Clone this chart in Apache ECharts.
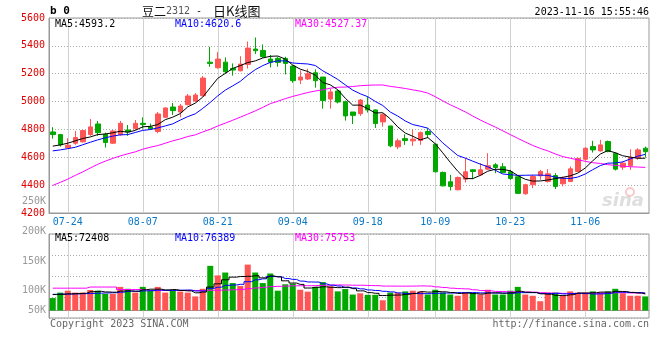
<!DOCTYPE html>
<html><head><meta charset="utf-8">
<script src="https://cdn.jsdelivr.net/npm/echarts@6/dist/echarts.min.js"></script>
<style>html,body{margin:0;padding:0;background:#fff}#c{width:660px;height:360px}</style>
</head><body><div id="c"></div>
<script>
const dates = ['07-20','07-21','07-24','07-25','07-26','07-27','07-28','07-31',
'08-01','08-02','08-03','08-04','08-07','08-08','08-09','08-10','08-11',
'08-14','08-15','08-16','08-17','08-18','08-21','08-22','08-23','08-24','08-25',
'08-28','08-29','08-30','08-31','09-01',
'09-04','09-05','09-06','09-07','09-08','09-11','09-12','09-13','09-14','09-15',
'09-18','09-19','09-20','09-21','09-22','09-25','09-26','09-27','09-28',
'10-09','10-10','10-11','10-12','10-13','10-16','10-17','10-18','10-19','10-20',
'10-23','10-24','10-25','10-26','10-27','10-30','10-31','11-01','11-02','11-03',
'11-06','11-07','11-08','11-09','11-10','11-13','11-14','11-15','11-16'];
const gridDates = ['07-24','08-07','08-21','09-04','09-18','10-09','10-23','11-06'];

const opens = [4782,4763,4668,4701,4711,4763,4839,4765,4701,4763,
4796,4806,4844,4818,4785,4887,4961,4925,4978,5004,
5042,5283,5243,5283,5238,5221,5267,5377,5367,5305,
5310,5310,5255,5155,5162,5207,5176,5018,5076,4999,
4925,4913,4975,4940,4854,4825,4675,4734,4718,4720,
4785,4694,4491,4424,4367,4443,4510,4474,4515,4546,
4532,4496,4460,4338,4403,4467,4426,4469,4410,4426,
4498,4586,4677,4646,4713,4629,4529,4539,4594,4665];
const closes = [4763,4689,4687,4742,4792,4818,4777,4706,4789,4844,
4782,4844,4835,4804,4911,4954,4935,4968,5040,5047,
5169,5274,5305,5214,5226,5269,5384,5365,5322,5283,
5281,5274,5150,5176,5200,5150,5007,5069,4997,4897,
4901,5011,4940,4842,4906,4682,4718,4720,4730,4777,
4763,4496,4395,4391,4455,4496,4498,4510,4539,4527,
4491,4448,4341,4403,4462,4498,4481,4391,4450,4517,
4592,4665,4653,4689,4641,4515,4558,4600,4653,4640];
const lows = [4734,4677,4663,4689,4706,4754,4754,4670,4696,4754,
4754,4796,4806,4796,4773,4882,4904,4887,4973,4997,
5038,5250,5236,5202,5186,5217,5238,5341,5314,5245,
5250,5195,5135,5126,5155,5100,4949,4949,4987,4863,
4839,4897,4921,4811,4820,4672,4658,4689,4682,4689,
4737,4491,4391,4362,4362,4419,4443,4467,4510,4486,
4486,4438,4338,4331,4379,4438,4419,4372,4391,4422,
4493,4577,4634,4641,4636,4505,4510,4510,4582,4598];
const highs = [4816,4768,4737,4789,4796,4875,4861,4777,4796,4861,
4832,4868,4887,4842,4925,4959,4990,4983,5054,5061,
5183,5393,5355,5317,5274,5326,5431,5460,5410,5334,
5322,5322,5260,5224,5236,5231,5176,5092,5083,5007,
4925,5018,5035,4944,4916,4825,4734,4765,4801,4785,
4809,4701,4498,4474,4462,4594,4515,4558,4629,4558,
4558,4510,4462,4410,4474,4510,4515,4486,4462,4534,
4598,4672,4718,4725,4720,4634,4570,4658,4665,4677];

const ma5 = [4680,4689,4701,4718,4735,4746,4763,4767,4776,4787,
4780,4793,4819,4822,4835,4870,4888,4914,4962,4989,
5032,5100,5167,5202,5238,5258,5280,5292,5313,5325,
5327,5305,5262,5233,5216,5190,5137,5120,5085,5024,
4974,4975,4949,4918,4920,4876,4818,4774,4751,4725,
4742,4697,4632,4564,4500,4447,4447,4470,4500,4514,
4513,4503,4469,4442,4429,4430,4437,4447,4456,4467,
4486,4523,4575,4623,4648,4633,4611,4601,4593,4593.2];
const ma10 = [4646,4653,4662,4672,4690,4708,4725,4740,4752,4761,
4763,4778,4793,4799,4811,4825,4840,4867,4892,4912,
4951,4994,5041,5082,5113,5145,5190,5229,5258,5281,
5292,5292,5277,5273,5270,5259,5221,5191,5159,5120,
5082,5056,5035,5001,4972,4925,4896,4861,4835,4823,
4809,4757,4703,4658,4613,4594,4572,4551,4532,4507,
4480,4475,4470,4471,4472,4472,4470,4458,4449,4448,
4458,4480,4511,4540,4558,4559,4567,4588,4608,4620.6];
const ma30 = [4398,4420,4443,4470,4495,4523,4550,4572,4592,4610,
4625,4639,4658,4672,4684,4701,4718,4732,4749,4761,
4782,4801,4825,4845,4866,4888,4910,4933,4958,4985,
5002,5021,5037,5051,5065,5076,5084,5096,5103,5104,
5108,5114,5117,5119,5119,5109,5102,5094,5084,5075,
5061,5035,5005,4977,4952,4926,4896,4868,4842,4817,
4790,4763,4736,4710,4685,4664,4646,4624,4605,4593,
4582,4571,4561,4556,4547,4542,4536,4532,4530,4527.37];

const volumes = [54600,78500,86900,78500,78500,89900,86900,73100,73100,103700,
95300,78500,103700,86900,103700,78500,86900,82700,78500,61700,
95300,196100,154100,166700,120500,107900,201600,166700,120500,162500,
86900,115100,117600,91100,82700,103700,124700,106700,84000,94100,
70100,75600,68900,68900,44900,78500,78500,84000,86900,84000,
70100,91100,78500,70100,64700,78500,78500,70100,91100,70100,
70100,86900,103700,70100,64700,40700,78500,78500,64700,84000,
78500,78500,84000,78500,84000,95300,75600,64700,64700,61700];
const vma5 = [70000,71000,73000,74000,75400,82500,84100,81400,80300,85300,
86400,84700,90900,93600,93600,90300,91900,87700,86100,77700,
81000,102900,117100,134800,146500,149100,150200,152700,143400,151800,
147600,130300,120500,114600,98700,102000,104000,101800,100400,102600,
95900,86100,78500,75500,65700,67400,67900,71000,74600,82400,
80700,83200,82100,78800,74900,76600,74100,72400,76600,77700,
76000,77700,84400,80200,79100,73200,71500,66500,65400,69300,
76800,76800,77900,80700,80700,84100,83500,79600,76900,72408];
const vma10 = [71000,72000,72000,73000,74000,75000,76000,77000,78000,80400,
84400,84400,86100,87000,89500,88300,88300,89300,89800,85600,
85600,97400,102400,110400,112100,115000,126500,134900,139100,149200,
148400,140300,136600,129000,125300,124800,117200,111200,107500,100700,
99000,95000,90200,87900,84200,81600,77000,74800,75000,74000,
74000,75600,76500,76700,78600,78600,78600,77300,77700,76300,
76300,75900,78400,78400,78400,74600,74600,75400,72800,74200,
75000,74200,72200,73100,75000,80500,80200,78800,78800,76389];
const vma30 = [98000,98000,98000,98000,98000,103000,103000,103000,103000,92000,
92000,92000,92000,88000,88000,88000,88000,88000,88000,88000,
88000,89000,89000,90000,91000,93000,96000,99000,102000,105100,
106100,107400,108400,108800,108900,109400,110700,111800,112200,111800,
111000,110900,109700,109100,107200,107200,106900,106900,107200,108000,
107100,103600,101100,97900,96000,95000,90900,87700,86700,83700,
83100,82200,81700,81000,80400,78300,76800,75800,75200,74800,
75100,75200,75700,76000,77300,77900,77800,77200,76400,75753];

const priceAxis = {min: 4200, max: 5600, step: 200};
const volAxis = {min: -33000, max: 336000};
const volTickLabels = ['200K','150K','100K','50K'];
const priceExtraLabel = '250K';
const titleText = {code: 'b 0', name1: '豆二', num: '2312', dash: '-', name2: '日K线图', time: '2023-11-16 15:55:46'};
const priceMaLabels = ['MA5:4593.2','MA10:4620.6','MA30:4527.37'];
const volMaLabels = ['MA5:72408','MA10:76389','MA30:75753'];

const RED = '#ff5555', GREEN = '#00a800';
const MONO = '"DejaVu Sans Mono", monospace';
const GRID_COLOR = '#aaaaaa';
const maColors = ['#000000','#0000ff','#ff00ff'];

const chart = echarts.init(document.getElementById('c'), null, {renderer:'canvas'});

function mtext(text, x, y, color, align, size, extra) {
  return Object.assign({type:'text', x:x, y:y, silent:true, z:100,
    style:{text:text, fill:color, font:(size||10)+'px '+MONO, align:align||'left', verticalAlign:'middle'}}, extra||{});
}
const volLabelY = [231, 261, 290, 310];
const graphics = [
  {type:'text', x:50, y:11, silent:true, style:{text:titleText.code, fill:'#000', font:'bold 11px '+MONO, align:'left', verticalAlign:'middle'}},
  {type:'text', x:142, y:11, silent:true, style:{text:titleText.name1, fill:'#111', font:'12px "Noto Sans CJK SC"', align:'left', verticalAlign:'middle'}},
  mtext(titleText.num, 166, 11, '#555', 'left', 10),
  mtext(titleText.dash, 199, 11, '#111', 'center', 10),
  {type:'text', x:213, y:11, silent:true, style:{text:titleText.name2, fill:'#111', font:'13px "Noto Sans CJK SC"', align:'left', verticalAlign:'middle'}},
  mtext(titleText.time, 649, 12, '#000', 'right', 10),
  mtext(priceMaLabels[0], 55, 24, maColors[0]),
  mtext(priceMaLabels[1], 175, 24, maColors[1]),
  mtext(priceMaLabels[2], 295, 24, maColors[2]),
  mtext(volMaLabels[0], 55, 238, maColors[0]),
  mtext(volMaLabels[1], 175, 238, maColors[1]),
  mtext(volMaLabels[2], 295, 238, maColors[2]),
  mtext(priceExtraLabel, 46, 201, '#999', 'right'),
  mtext('Copyright 2023 SINA.COM', 50, 324, '#666'),
  mtext('http://finance.sina.com.cn', 649, 324, '#666', 'right'),
  {type:'text', x:602, y:201, silent:true, z:1, style:{text:'sina', fill:'rgba(160,160,160,0.35)', font:'italic bold 18px "DejaVu Sans"', align:'left', verticalAlign:'middle'}},
  {type:'circle', x:630, y:192, silent:true, z:1, shape:{r:4}, style:{fill:'none', stroke:'rgba(230,80,80,0.3)', lineWidth:2}}
];
volTickLabels.forEach((t, i) => graphics.push(mtext(t, 46, volLabelY[i], '#999', 'right')));

const upDown = closes.map((c, i) => c >= opens[i]);

// vertical grid lines at the labelled dates (custom series, pixel-snapped, light solid to read as dotted grey)
function gridLineSeries(xi, yi, midValue) {
  return {type:'custom', xAxisIndex:xi, yAxisIndex:yi, silent:true, z:5,
    data: gridDates.map(d => [dates.indexOf(d), midValue]),
    renderItem:(params, api) => {
      const cs = params.coordSys;
      const x = Math.round(api.coord([api.value(0), api.value(1)])[0]) + 0.5;
      return {type:'line', shape:{x1:x, y1:cs.y, x2:x, y2:cs.y + cs.height},
        style:{stroke:'#d2d2d2', lineWidth:1}};
    }};
}

function maSeries(data, color, xi, yi, step) {
  return {type:'line', data:data, xAxisIndex:xi, yAxisIndex:yi, showSymbol:false, symbol:'none',
    step: step || false, lineStyle:{color:color, width:1}, itemStyle:{color:color}, silent:true, animation:false, z:7};
}

const option = {
  animation:false,
  grid:[
    {left:49, top:18, width:600, height:195, show:true, borderColor:'#999', borderWidth:1},
    {left:49, top:234, width:600, height:84, show:true, borderColor:'#999', borderWidth:1}
  ],
  xAxis:[
    {type:'category', gridIndex:0, data:dates, boundaryGap:true,
     axisLine:{lineStyle:{color:'#999'}}, axisTick:{show:false}, splitLine:{show:false},
     axisLabel:{color:'#0a78c8', fontFamily:'DejaVu Sans Mono', fontSize:10, margin:4,
       interval:(i, v) => gridDates.indexOf(v) >= 0}},
    {type:'category', gridIndex:1, data:dates, boundaryGap:true,
     axisLine:{lineStyle:{color:'#999'}}, axisTick:{show:false}, splitLine:{show:false}, axisLabel:{show:false}}
  ],
  yAxis:[
    {type:'value', gridIndex:0, min:priceAxis.min, max:priceAxis.max, interval:priceAxis.step,
     axisLine:{show:true, lineStyle:{color:'#999'}}, axisTick:{show:false},
     splitLine:{show:true, lineStyle:{type:[1,2], color:GRID_COLOR}},
     axisLabel:{color:'#e00000', fontFamily:'DejaVu Sans Mono', fontSize:10, margin:4, formatter:(v) => String(v)}},
    {type:'value', gridIndex:1, min:volAxis.min, max:volAxis.max,
     axisLine:{show:true, lineStyle:{color:'#999'}}, axisTick:{show:false}, splitLine:{show:false}, axisLabel:{show:false}},
    {type:'value', gridIndex:1, min:0, max:4, interval:1, position:'left',
     axisLine:{show:false}, axisTick:{show:false}, axisLabel:{show:false},
     splitLine:{show:true, lineStyle:{type:[1,2], color:GRID_COLOR}}}
  ],
  series:[
    gridLineSeries(0, 0, 4900),
    gridLineSeries(1, 1, 100000),
    {type:'candlestick', xAxisIndex:0, yAxisIndex:0, barWidth:5, z:6,
     data: dates.map((d, i) => [opens[i], closes[i], lows[i], highs[i]]),
     itemStyle:{color:RED, color0:GREEN, borderColor:RED, borderColor0:GREEN, borderWidth:1}},
    maSeries(ma30, maColors[2], 0, 0),
    maSeries(ma10, maColors[1], 0, 0),
    maSeries(ma5, maColors[0], 0, 0),
    {type:'bar', xAxisIndex:1, yAxisIndex:1, barWidth:6, z:6,
     data: volumes.map((v, i) => ({value:v, itemStyle:{color: upDown[i] ? RED : GREEN}}))},
    maSeries(vma30, maColors[2], 1, 1, 'middle'),
    maSeries(vma10, maColors[1], 1, 1, 'middle'),
    maSeries(vma5, maColors[0], 1, 1, 'middle')
  ],
  graphic: graphics
};
chart.setOption(option);
</script>
</body></html>
